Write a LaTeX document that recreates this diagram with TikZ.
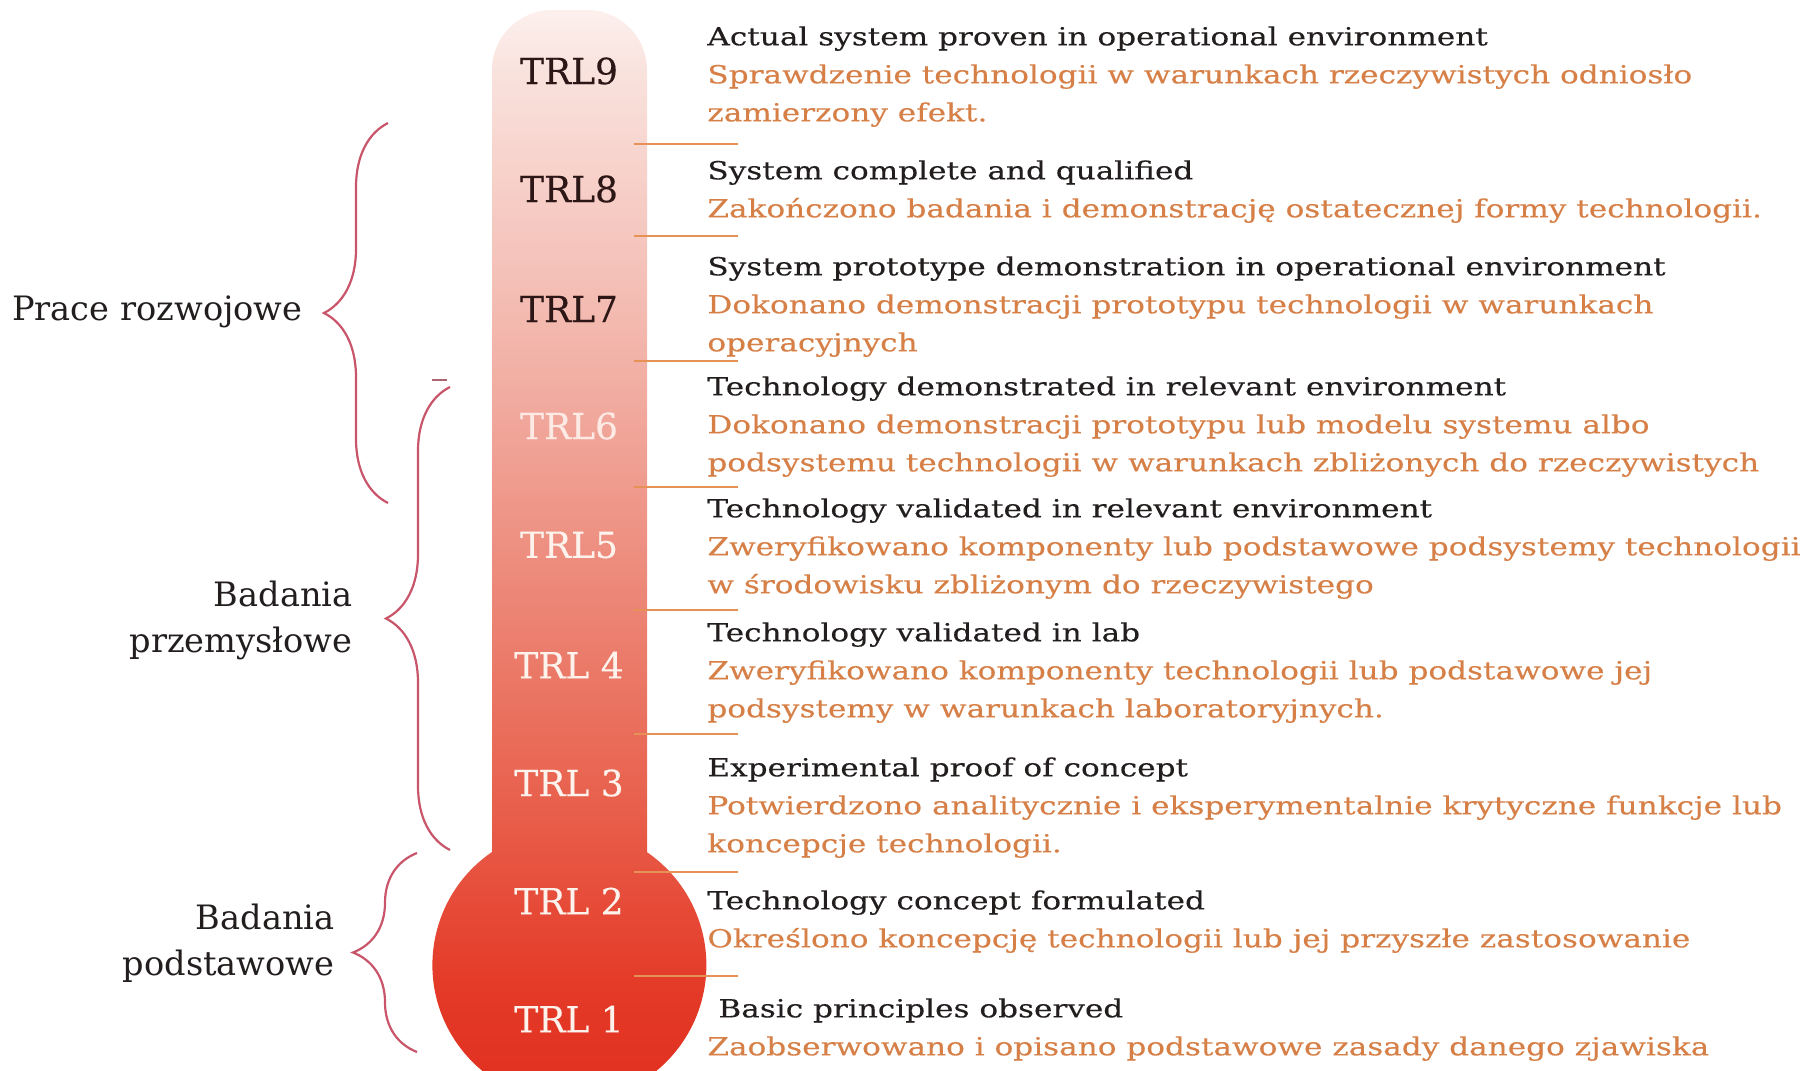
\documentclass[tikz,border=0pt]{standalone}
\usepackage{fontspec}
\setmainfont{DejaVu Serif}
\newfontfamily\descfont[FakeStretch=1.25, FakeBold=0.3]{DejaVu Serif}
\newfontfamily\trlfont[FakeBold=0.4]{DejaVu Serif}
\usetikzlibrary{positioning, decorations.pathreplacing}
\definecolor{TitleGray}{RGB}{35,30,30}
\definecolor{DescOrange}{RGB}{214,128,72}
\definecolor{SepOrange}{RGB}{230,145,85}
\definecolor{BraceRed}{RGB}{200,85,105}
\definecolor{TrlDark}{RGB}{45,22,22}
\definecolor{TrlLight}{RGB}{253,242,236}
\definecolor{ThA}{RGB}{224,45,30}
\definecolor{ThB}{RGB}{228,58,40}
\definecolor{ThC}{RGB}{232,95,75}
\definecolor{ThD}{RGB}{237,140,125}
\definecolor{ThE}{RGB}{243,185,175}
\definecolor{ThF}{RGB}{249,225,220}
\definecolor{ThG}{RGB}{252,240,237}

\pgfdeclareverticalshading{thermo}{100bp}{
    color(0bp)=(ThA); color(25bp)=(ThA); color(31bp)=(ThB);
    color(39bp)=(ThC); color(50bp)=(ThD); color(61bp)=(ThE);
    color(72bp)=(ThF); color(75bp)=(ThG); color(100bp)=(ThG)}

\begin{document}
\begin{tikzpicture}[
    x=0.5pt, y=-0.5pt,
    trl/.style={font=\trlfont\fontsize{18}{20}\selectfont, inner sep=0pt},
    trldark/.style={trl, text=TrlDark},
    trllight/.style={trl, text=TrlLight},
    level/.style={anchor=north west, inner sep=0pt, align=left,
        font=\descfont\fontsize{12.45}{19}\selectfont, text=DescOrange},
    phase/.style={inner sep=0pt, align=right, text=TitleGray,
        font=\fontsize{16.8}{23}\selectfont},
    sep/.style={SepOrange, line width=1pt},
    curly/.style={BraceRed, line width=1.1pt, decorate,
        decoration={brace, amplitude=32pt, aspect=0.5}},
]
\useasboundingbox (0,0) rectangle (1806,1071);

% termometr
\shade[shading=thermo]
    (647,852) [rounded corners=30pt] -- (647,10) -- (492,10) [sharp corners] -- (492,852)
    arc[start angle=124.4, end angle=415.6, radius=68.5pt] -- cycle;

% separatory poziomow
\foreach \y in {144,236,361,487,610,734,872,976}
    \draw[sep] (634,\y) -- (738,\y);

% etykiety TRL
\node[trldark] (trl9) at (569,71) {TRL9};
\node[trldark] (trl8) at (569,189) {TRL8};
\node[trldark] (trl7) at (569,309) {TRL7};
\node[trllight, text=TrlLight!85!pink] (trl6) at (569,426) {TRL6};
\node[trllight] (trl5) at (569,545) {TRL5};
\node[trllight] (trl4) at (569,665) {TRL 4};
\node[trllight] (trl3) at (569,783) {TRL 3};
\node[trllight] (trl2) at (569,901) {TRL 2};
\node[trllight] (trl1) at (569,1019) {TRL 1};

% opisy poziomow
\node[level] (d9) at (707,26) {\textcolor{TitleGray}{Actual system proven in operational environment}\\
    Sprawdzenie technologii w warunkach rzeczywistych odniosło\\zamierzony efekt.};
\node[level] (d8) at (707,160) {\textcolor{TitleGray}{System complete and qualified}\\
    Zakończono badania i demonstrację ostatecznej formy technologii.};
\node[level] (d7) at (707,256) {\textcolor{TitleGray}{System prototype demonstration in operational environment}\\
    Dokonano demonstracji prototypu technologii w warunkach\\operacyjnych};
\node[level] (d6) at (707,376) {\textcolor{TitleGray}{Technology demonstrated in relevant environment}\\
    Dokonano demonstracji prototypu lub modelu systemu albo\\
    podsystemu technologii w warunkach zbliżonych do rzeczywistych};
\node[level] (d5) at (707,498) {\textcolor{TitleGray}{Technology validated in relevant environment}\\
    Zweryfikowano komponenty lub podstawowe podsystemy technologii\\
    w środowisku zbliżonym do rzeczywistego};
\node[level] (d4) at (707,622) {\textcolor{TitleGray}{Technology validated in lab}\\
    Zweryfikowano komponenty technologii lub podstawowe jej\\
    podsystemy w warunkach laboratoryjnych.};
\node[level] (d3) at (707,757) {\textcolor{TitleGray}{Experimental proof of concept}\\
    Potwierdzono analitycznie i eksperymentalnie krytyczne funkcje lub\\
    koncepcje technologii.};
\node[level] (d2) at (707,890) {\textcolor{TitleGray}{Technology concept formulated}\\
    Określono koncepcję technologii lub jej przyszłe zastosowanie};
\node[level] (d1) at (707,998) {\hspace*{5.5pt}\textcolor{TitleGray}{Basic principles observed}\\
    Zaobserwowano i opisano podstawowe zasady danego zjawiska};

% klamry faz
\coordinate (rozTop) at (388,123);
\coordinate (rozBot) at (388,503);
\coordinate (rozTip) at (325,312);
\coordinate (przTop) at (450,387);
\coordinate (przBot) at (450,850);
\coordinate (przTip) at (383,618);
\coordinate (podTop) at (417,853);
\coordinate (podBot) at (417,1052);
\coordinate (podTip) at (350,953);

\draw[curly] (rozBot) -- (rozTop);
\draw[curly] (przBot) -- (przTop);
\draw[curly] (podBot) -- (podTop);
\draw[BraceRed!60!gray, line width=0.8pt] (432,380) -- (447,380);

\node[phase, left=11pt of rozTip] (prace) {Prace rozwojowe};
\node[phase, left=15pt of przTip, yshift=-1pt] (przem) {Badania\\przemysłowe};
\node[phase, left=7.5pt of podTip, yshift=5pt] (podst) {Badania\\podstawowe};

\end{tikzpicture}
\end{document}
